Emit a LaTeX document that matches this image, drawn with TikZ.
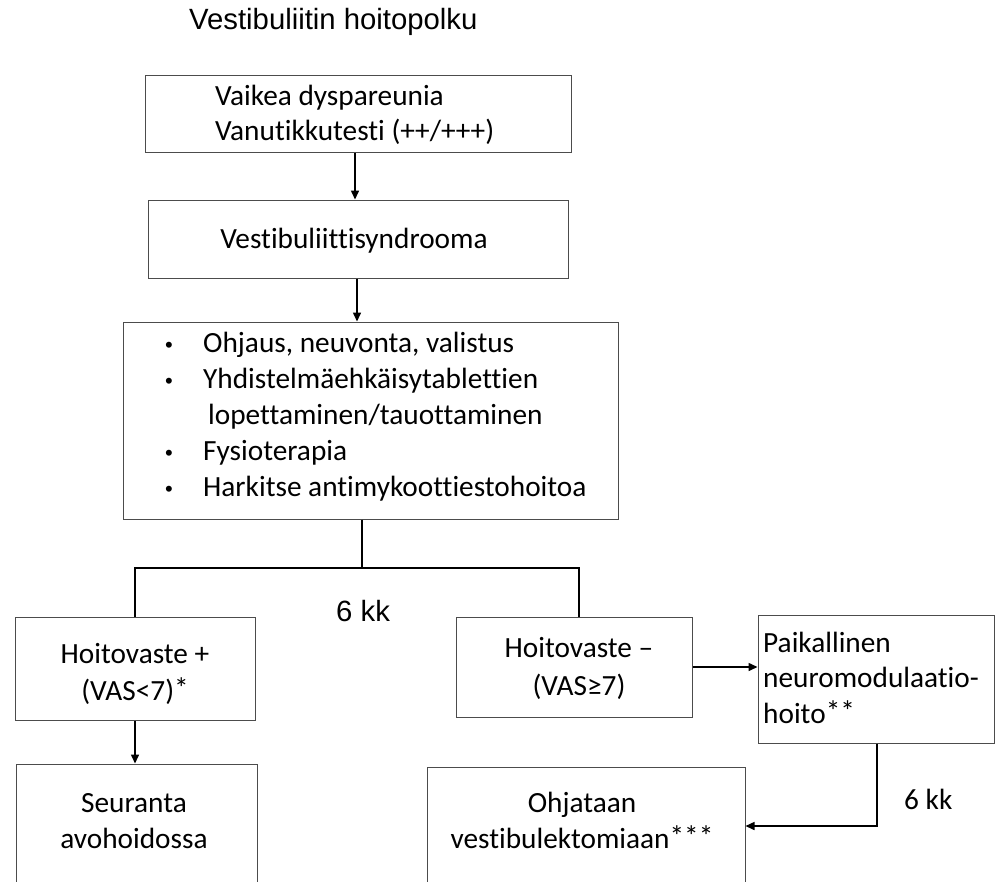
\documentclass[tikz,border=0pt]{standalone}
\usepackage{fontspec}
\setmainfont{Carlito}[Ligatures=NoCommon]
\newfontfamily\arialf{Liberation Sans}
\usetikzlibrary{arrows.meta}
\newcommand{\mylines}[2]{\begin{tabular}[t]{@{}#1@{}}#2\end{tabular}}
\newcommand{\mybul}{\makebox[38pt][l]{\arialf\fontsize{22}{22}\selectfont •}}
\newcommand{\myast}[1]{\raisebox{1.5pt}{#1}}
\begin{document}
\begin{tikzpicture}[x=1pt,y=-1pt,
  box/.style={draw=black!70, line width=1pt, inner sep=0pt},
  txt/.style={inner sep=0pt, font=\fontsize{29.3}{36}\selectfont},
  conn/.style={line width=1.5pt},
  arr/.style={conn,-{Triangle[length=9pt,width=8pt]}}]
\useasboundingbox (0,0) rectangle (995,881);
\fill[white] (0,0) rectangle (995,881);
\clip (0,0) rectangle (995,881);
% title
\node[inner sep=0pt, anchor=base west, font=\arialf\fontsize{29.3}{34}\selectfont] (title) at (189,29) {Vestibuliitin hoitopolku};
% boxes
\node[box, minimum width=426pt, minimum height=77pt] (b1) at (358,113.5) {};
\node[box, minimum width=420pt, minimum height=78pt] (b2) at (358,239) {};
\node[box, minimum width=495pt, minimum height=197pt] (b3) at (370.5,420.5) {};
\node[box, minimum width=240pt, minimum height=103pt] (b4) at (135,668.5) {};
\node[box, minimum width=236pt, minimum height=100pt] (b5) at (574,667) {};
\node[box, minimum width=236pt, minimum height=128pt] (b6) at (876,679) {};
\node[box, minimum width=241pt, minimum height=160pt] (b7) at (136.5,844) {};
\node[box, minimum width=318pt, minimum height=160pt] (b8) at (586,847) {};
% texts
\node[txt, anchor=base west, font=\fontsize{29.3}{35}\selectfont] (t1) at (215,105) {\mylines{l}{Vaikea dyspareunia\\Vanutikkutesti (++/+++)}};
\node[txt, anchor=base] (t2) at (354,248) {Vestibuliittisyndrooma};
\node[txt, anchor=base west] (t3) at (165,352) {\mylines{l}{%
\mybul Ohjaus, neuvonta, valistus\\
\mybul Yhdistelmäehkäisytablettien\\
\hspace*{43pt}lopettaminen/tauottaminen\\
\mybul Fysioterapia\\
\mybul Harkitse antimykoottiestohoitoa}};
\node[txt, anchor=base, font=\fontsize{29.3}{37}\selectfont] (t4) at (135,663) {\mylines{c}{Hoitovaste +\\(VAS<7)\myast{*}}};
\node[txt, anchor=base, font=\fontsize{29.3}{38}\selectfont] (t5) at (579,657) {\mylines{c}{Hoitovaste –\\(VAS≥7)}};
\node[txt, anchor=base west, font=\fontsize{29.3}{35.5}\selectfont] (t6) at (763,652) {\mylines{l}{Paikallinen\\neuromodulaatio-\\hoito\myast{**}}};
\node[txt, anchor=base] (t7) at (134,812) {\mylines{c}{Seuranta\\avohoidossa}};
\node[txt, anchor=base] (t8) at (582,812) {\mylines{c}{Ohjataan\\vestibulektomiaan\myast{***}}};
\node[inner sep=0pt, anchor=base west, font=\arialf\fontsize{29.3}{34}\selectfont] (k1) at (336,621) {6 kk};
\node[txt, anchor=base west] (k2) at (904,809) {6 kk};
% connectors
\coordinate (j) at (362,568);
\coordinate (jl) at (135,568);
\coordinate (jr) at (579,568);
\coordinate (c6) at (877,826);
\draw[arr] (b1.south -| 355,0) -- (b2.north -| 355,0);
\draw[arr] (b2.south -| 357,0) -- (b3.north -| 357,0);
\draw[conn] (b3.south -| j) -- (j);
\draw[conn] (jl |- b4.north) -- (jl) -- (jr) -- (jr |- b5.north);
\draw[arr] (b4.south) -- (b4.south |- b7.north);
\draw[arr] (b5.east) -- (b6.west |- b5.east);
\draw[arr] (b6.south -| c6) -- (c6) -- (b8.east |- c6);
\end{tikzpicture}
\end{document}
